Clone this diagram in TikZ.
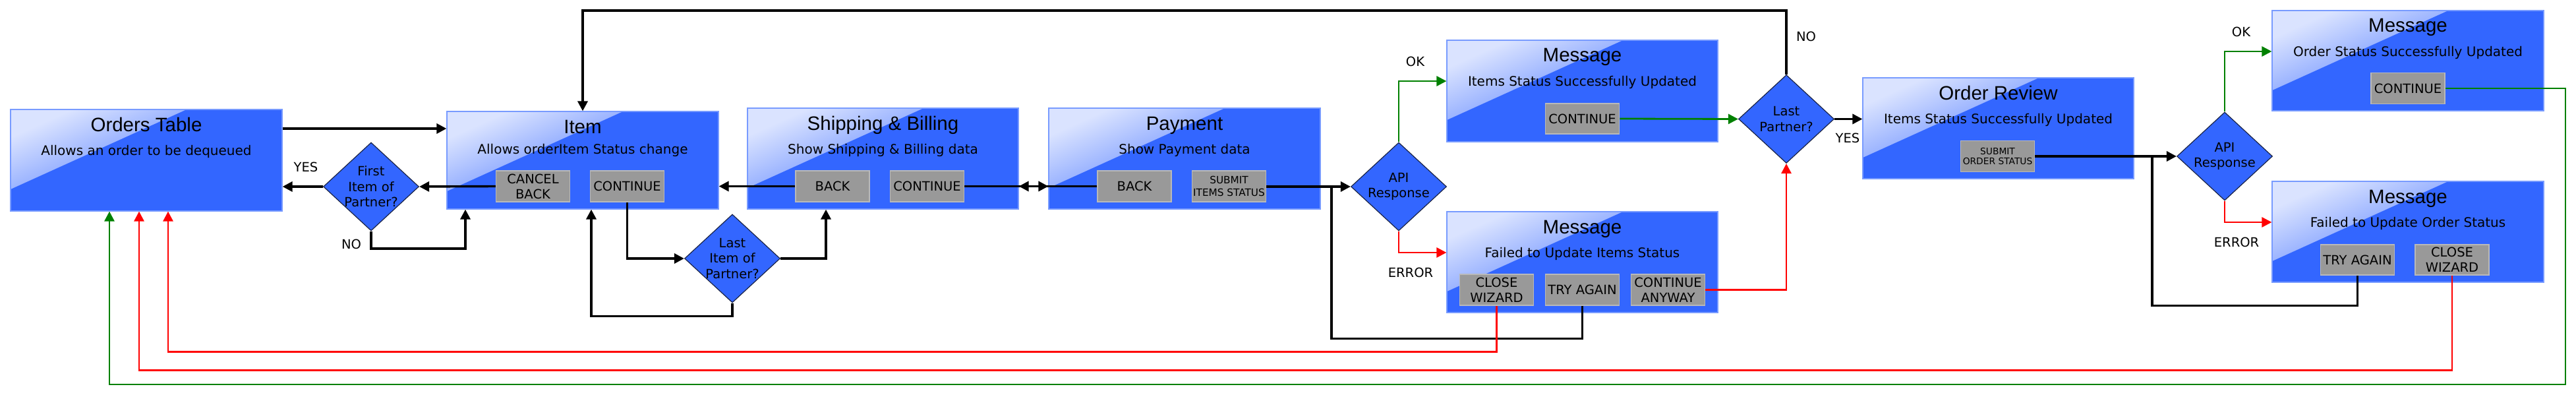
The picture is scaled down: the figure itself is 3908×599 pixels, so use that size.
\documentclass[tikz,border=0pt]{standalone}
\usepackage{fontspec}
\setmainfont{DejaVu Sans}
\newfontfamily\titlefont{Liberation Sans}
\usetikzlibrary{arrows.meta,shapes.geometric,calc}
\definecolor{boxblue}{RGB}{51,102,255}
\definecolor{boxedge}{RGB}{120,155,255}
\definecolor{glosstop}{RGB}{218,227,255}
\definecolor{glossbot}{RGB}{20,78,255}
\definecolor{btngray}{RGB}{153,153,153}
\definecolor{btnedge}{RGB}{185,185,185}
\definecolor{diaedge}{RGB}{25,35,70}
\definecolor{arrred}{RGB}{255,0,0}
\definecolor{arrgreen}{RGB}{0,128,0}
\begin{document}
\begin{tikzpicture}[x=1pt,y=-1pt,
  win/.style={rectangle, draw=boxedge, line width=1.2pt, fill=boxblue, inner sep=0pt,
    minimum width=412pt, minimum height=153pt,
    path picture={\shade[top color=glosstop,bottom color=glossbot,shading angle=24]
      (path picture bounding box.north west) -- ++(267pt,0pt) -- ++(-267pt,-121pt) -- cycle;}},
  btn/.style={rectangle, draw=btnedge, line width=1.5pt, fill=btngray, inner sep=0pt,
    minimum width=112pt, minimum height=47pt, align=center,
    font=\fontsize{19.5pt}{23pt}\selectfont},
  dec/.style={diamond, draw=diaedge, line width=1.2pt, fill=boxblue, inner sep=0pt,
    minimum width=145pt, minimum height=134pt},
  dtext/.style={align=center, inner sep=0pt, font=\fontsize{19.5pt}{23.5pt}\selectfont},
  ttl/.style={anchor=base, inner sep=0pt, font=\titlefont\fontsize{29.5pt}{32pt}\selectfont},
  subt/.style={anchor=base, inner sep=0pt, font=\fontsize{20pt}{24pt}\selectfont},
  lbl/.style={inner sep=0pt, font=\fontsize{19.5pt}{23pt}\selectfont},
  blk/.style={line width=3.4pt, -{Triangle[length=15pt,width=15pt]}},
  blkline/.style={line width=3.4pt},
  redarr/.style={draw=arrred, line width=2.8pt, -{Triangle[length=15pt,width=15pt]}},
  grnarr/.style={draw=arrgreen, line width=2.8pt, -{Triangle[length=15pt,width=15pt]}}
]
\useasboundingbox (0,0) rectangle (3908,599);

% ---------- windows ----------
\node[win, minimum height=154pt] (orders) at (222,243) {};
\node[ttl] (orders-t) at (222,199) {Orders Table};
\node[subt] (orders-s) at (222,235.5) {Allows an order to be dequeued};

\node[win, minimum height=148pt] (item) at (884,243) {};
\node[ttl] (item-t) at (884,202) {Item};
\node[subt] (item-s) at (884,233) {Allows orderItem Status change};
\node[btn] (bcancel) at (808.5,282.5) {CANCEL\\BACK};
\node[btn] (bicont) at (951.5,282.5) {CONTINUE};

\node[win, minimum width=411pt] (ship) at (1339.5,240.5) {};
\node[ttl] (ship-t) at (1339.5,197) {Shipping \& Billing};
\node[subt] (ship-s) at (1339.5,233.5) {Show Shipping \& Billing data};
\node[btn] (bsback) at (1263,282.5) {BACK};
\node[btn] (bscont) at (1406.5,282.5) {CONTINUE};

\node[win] (pay) at (1797,240.5) {};
\node[ttl] (pay-t) at (1797,197) {Payment};
\node[subt] (pay-s) at (1797,233.5) {Show Payment data};
\node[btn] (bpback) at (1721,282.5) {BACK};
\node[btn, font=\fontsize{15.3pt}{19pt}\selectfont] (bsubmit) at (1864.5,282.5) {SUBMIT\\ITEMS STATUS};

\node[win, minimum width=411pt, minimum height=154pt] (msg1) at (2400.5,138) {};
\node[ttl] (msg1-t) at (2400.5,94) {Message};
\node[subt] (msg1-s) at (2400.5,130.5) {Items Status Successfully Updated};
\node[btn, minimum height=46pt] (bm1cont) at (2400.5,180) {CONTINUE};

\node[win, minimum width=411pt] (fail1) at (2400.5,397.5) {};
\node[ttl] (fail1-t) at (2400.5,354) {Message};
\node[subt] (fail1-s) at (2400.5,390.5) {Failed to Update Items Status};
\node[btn] (bf1close) at (2270.5,439.5) {CLOSE\\WIZARD};
\node[btn] (bf1try) at (2400.5,439.5) {TRY AGAIN};
\node[btn] (bf1any) at (2530.5,439.5) {CONTINUE\\ANYWAY};

\node[win, minimum width=411pt] (review) at (3031.5,194.5) {};
\node[ttl] (review-t) at (3031.5,151) {Order Review};
\node[subt] (review-s) at (3031.5,187.5) {Items Status Successfully Updated};
\node[btn, font=\fontsize{13.8pt}{15.5pt}\selectfont] (brsubmit) at (3030.5,237) {SUBMIT\\ORDER STATUS};

\node[win, minimum height=152pt] (msg2) at (3653,92) {};
\node[ttl] (msg2-t) at (3653,49) {Message};
\node[subt] (msg2-s) at (3653,85.5) {Order Status Successfully Updated};
\node[btn] (bm2cont) at (3653,134) {CONTINUE};

\node[win] (fail2) at (3653,351.5) {};
\node[ttl] (fail2-t) at (3653,308) {Message};
\node[subt] (fail2-s) at (3653,344.5) {Failed to Update Order Status};
\node[btn, minimum height=46pt] (bf2try) at (3576.5,394) {TRY AGAIN};
\node[btn, minimum height=46pt] (bf2close) at (3720,394) {CLOSE\\WIZARD};

% ---------- decisions ----------
\node[dec] (first) at (563,283) {};
\node[dtext] (first-t) at (first) {First\\Item of\\Partner?};
\node[dec] (lastitem) at (1111,392) {};
\node[dtext] (lastitem-t) at (lastitem) {Last\\Item of\\Partner?};
\node[dec] (api1) at (2122,283) {};
\node[dtext] (api1-t) at (api1) {API\\Response};
\node[dec] (lp) at (2710,180.5) {};
\node[dtext] (lp-t) at (lp) {Last\\Partner?};
\node[dec] (api2) at (3375,237) {};
\node[dtext] (api2-t) at (api2) {API\\Response};

% ---------- labels ----------
\node[lbl] (yes1) at (464,253) {YES};
\node[lbl] (no1) at (533,370) {NO};
\node[lbl] (no2) at (2740,55) {NO};
\node[lbl] (ok1) at (2147,93) {OK};
\node[lbl] (err1) at (2140,413) {ERROR};
\node[lbl] (yes2) at (2803,209) {YES};
\node[lbl] (ok2) at (3400,48) {OK};
\node[lbl] (err2) at (3393,367) {ERROR};

% ---------- join points ----------
\coordinate (j1) at (2020,283);
\coordinate (j2) at (3265,237);
\coordinate (gcorner) at (3892,583);

% ---------- black connectors ----------
\draw[blk] ([yshift=48pt]orders.east) -- ([yshift=48pt]item.west);
\draw[blk] (bcancel.west) -- (first.east);
\draw[blk] (first.west) -- (first.west -| orders.east);
\draw[blk] (first.south) -- ++(0,26.5) -| ([xshift=-178pt]item.south);
\draw[blk] (lp.north) -- ++(0,-97) -| (item.north);
\draw[blk] (bicont.south) |- (lastitem.west);
\draw[blk] (lastitem.south) -- ++(0,20) -| ([xshift=13pt]item.south);
\draw[blk] (lastitem.east) -| ([xshift=-86.5pt]ship.south);
\draw[blk] (bsback.west) -- (bsback.west -| item.east);
\draw[blk] (bscont.east) -- (bscont.east -| pay.west);
\draw[blk] (bpback.west) -- (bpback.west -| ship.east);
\draw[blk] (api1.west -| bsubmit.east) -- (api1.west);
\draw[blkline] (bf1try.south) -- ++(0,50) -| (j1);
\draw[blk] (lp.east) -- (lp.east -| review.west);
\draw[blk] (api2.west -| brsubmit.east) -- (api2.west);
\draw[blkline] (bf2try.south) -- ++(0,46) -| (j2);

% ---------- green connectors ----------
\draw[grnarr] (api1.north) |- ([yshift=15pt]msg1.west);
\draw[grnarr] (bm1cont.east) -- (lp.west);
\draw[grnarr] (api2.north) |- ([yshift=14pt]msg2.west);
\draw[grnarr] (bm2cont.east) -| (gcorner) -| ([xshift=-56pt]orders.south);

% ---------- red connectors ----------
\draw[redarr] (api1.south) |- ([yshift=14.5pt]fail1.west);
\draw[redarr] (bf1any.east) -| (lp.south);
\draw[redarr] (bf1close.south) -- ++(0,70) -| ([xshift=33pt]orders.south);
\draw[redarr] (api2.south) |- ([yshift=14.5pt]fail2.west);
\draw[redarr] (bf2close.south) -- ++(0,144) -| ([xshift=-11pt]orders.south);
\end{tikzpicture}
\end{document}
